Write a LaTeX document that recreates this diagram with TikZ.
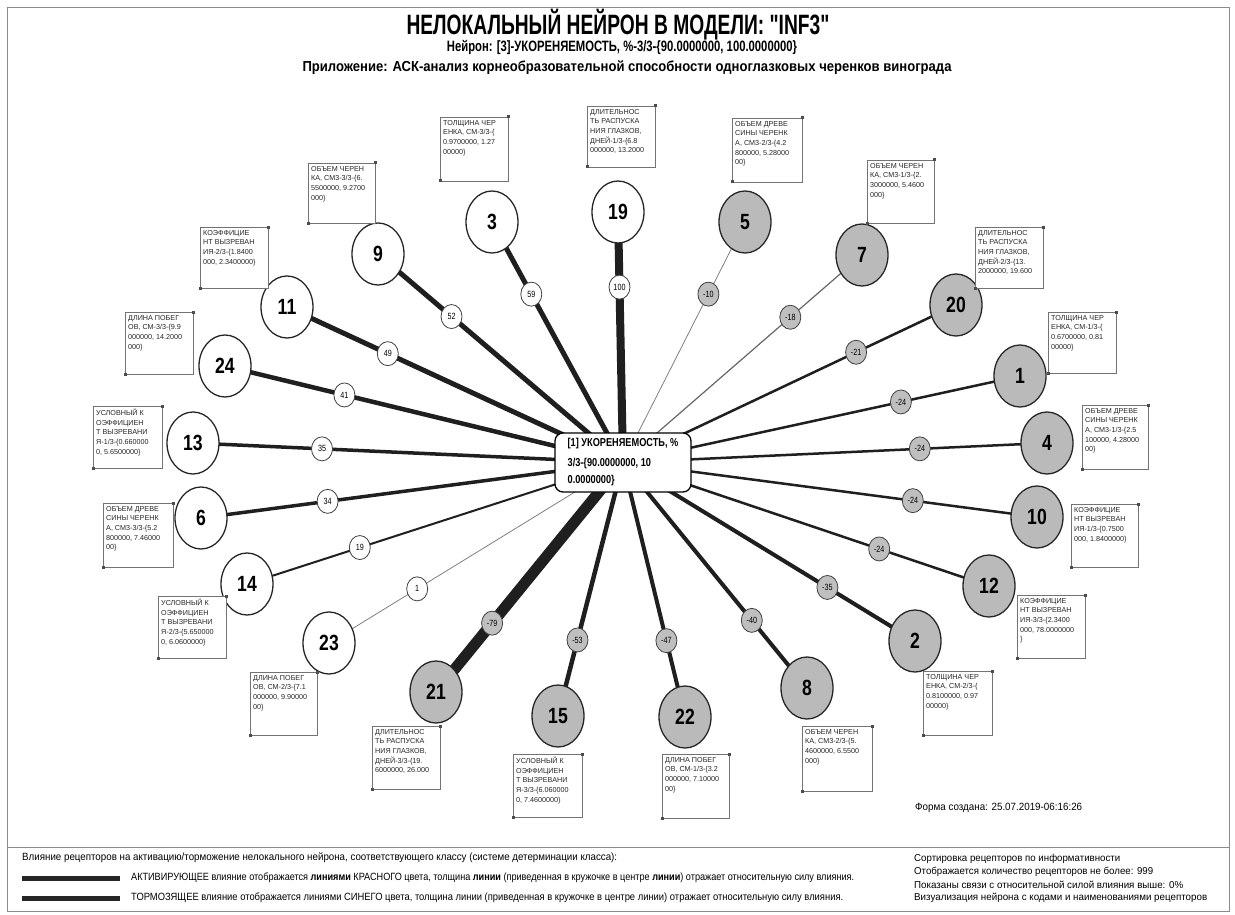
\documentclass[tikz,border=0pt]{standalone}
\usepackage{graphicx}
\usepackage{fontspec}
\setmainfont{Liberation Sans}[Ligatures=TeXOff]
\newfontfamily\nar[FakeStretch=0.8]{Liberation Sans}
\usetikzlibrary{shapes.geometric,calc}
\pgfdeclarelayer{back}
\pgfdeclarelayer{bg}
\pgfsetlayers{back,bg,main}
\tikzset{
 nd/.style={ellipse, draw=black!85, line width=1.3pt, minimum width=52pt, minimum height=62pt, inner sep=0pt, font=\nar\fontsize{22}{24}\selectfont\bfseries},
 wn/.style={nd, fill=white},
 gn/.style={nd, fill=black!27},
 lb/.style={ellipse, draw=black!75, line width=0.8pt, minimum width=21pt, minimum height=24pt, inner sep=0pt, font=\nar\fontsize{9}{10}\selectfont},
 lbw/.style={lb, fill=white},
 lbg/.style={lb, fill=black!25},
 ln/.style={draw=black!88, line cap=butt},
 ibox/.style={draw=black!55, line width=0.8pt, fill=white},
 itxt/.style={anchor=north west, inner sep=0pt, align=left, font=\fontsize{7.2}{9.6}\selectfont, text=black!85},
 mk/.style={rectangle, fill=black!70, minimum size=3pt, inner sep=0pt},
 cbox/.style={draw=black, line width=1.3pt, fill=white, rounded corners=8pt, minimum width=136pt, minimum height=59pt, align=left, inner sep=0pt, font=\nar\fontsize{11.5}{17}\selectfont\bfseries},
 txt/.style={inner sep=0pt},
}
\newcommand\infobox[6]{%
 \draw[ibox] (#2,#3) rectangle (#4,#5);
 \node[itxt] (#1) at ($(#2,#3)+(3,3)$) {#6};
 \node[mk] (#1a) at (#4,#3) {};
 \node[mk] (#1b) at (#2,#5) {};
}
\begin{document}
\begin{tikzpicture}[x=1pt,y=-1pt]
\useasboundingbox (0,0) rectangle (1235,915);
\begin{pgfonlayer}{back}
\fill[white] (0,0) rectangle (1235,915);
\end{pgfonlayer}
\draw[black!45, line width=1pt] (7,8) rectangle (1229,911);
\draw[black!45, line width=1pt] (7,847) -- (1229,847);

% titles
\node[txt] (t1) at (618,25) {\resizebox{423pt}{\height}{\fontsize{28}{30}\selectfont\bfseries НЕЛОКАЛЬНЫЙ НЕЙРОН В МОДЕЛИ: "INF3"}};
\node[txt] (t2) at (622,47) {\resizebox{350pt}{\height}{\fontsize{15}{17}\selectfont\bfseries Нейрон: [3]-УКОРЕНЯЕМОСТЬ, \%-3/3-\{90.0000000, 100.0000000\}}};
\node[txt] (t3) at (627,68) {\resizebox{649pt}{\height}{\fontsize{14.5}{17}\selectfont\bfseries Приложение: АСК-анализ корнеобразовательной способности одноглазковых черенков винограда}};

% centre
\node[cbox] (c) at (623,462.5) {[1] УКОРЕНЯЕМОСТЬ, \%\\ [3] 3/3-\{90.0000000, 10\\ 0.0000000\}};

% receptor nodes
\node[wn] (n19) at (618,212) {19};
\node[wn] (n3) at (492,222) {3};
\node[wn] (n9) at (378,254) {9};
\node[wn] (n11) at (287,307) {11};
\node[wn] (n24) at (225,366) {24};
\node[wn] (n13) at (193,443) {13};
\node[wn] (n6) at (201,518) {6};
\node[wn] (n14) at (247,584) {14};
\node[wn] (n23) at (329,643) {23};
\node[gn] (n5) at (745,222) {5};
\node[gn] (n7) at (862,255) {7};
\node[gn] (n20) at (956,305) {20};
\node[gn] (n1) at (1020,376) {1};
\node[gn] (n4) at (1047,443) {4};
\node[gn] (n10) at (1037,517) {10};
\node[gn] (n12) at (989,586) {12};
\node[gn] (n2) at (915,641) {2};
\node[gn] (n8) at (807,688) {8};
\node[gn] (n22) at (685,717) {22};
\node[gn] (n15) at (558,716) {15};
\node[gn] (n21) at (436,692) {21};

\begin{pgfonlayer}{bg}
\draw[ln, line width=8pt] (c.center) -- (n19.center);
\draw[ln, line width=5pt] (c.center) -- (n3.center);
\draw[ln, line width=5pt] (c.center) -- (n9.center);
\draw[ln, line width=5pt] (c.center) -- (n11.center);
\draw[ln, line width=4.5pt] (c.center) -- (n24.center);
\draw[ln, line width=3.5pt] (c.center) -- (n13.center);
\draw[ln, line width=3.5pt] (c.center) -- (n6.center);
\draw[ln, line width=2pt] (c.center) -- (n14.center);
\draw[ln, line width=0.8pt, draw=black!50] (c.center) -- (n23.center);
\draw[ln, line width=0.8pt, draw=black!50] (c.center) -- (n5.center);
\draw[ln, line width=1.2pt, draw=black!60] (c.center) -- (n7.center);
\draw[ln, line width=2.5pt] (c.center) -- (n20.center);
\draw[ln, line width=2.5pt] (c.center) -- (n1.center);
\draw[ln, line width=2.5pt] (c.center) -- (n4.center);
\draw[ln, line width=2.5pt] (c.center) -- (n10.center);
\draw[ln, line width=2.5pt] (c.center) -- (n12.center);
\draw[ln, line width=4pt] (c.center) -- (n2.center);
\draw[ln, line width=4pt] (c.center) -- (n8.center);
\draw[ln, line width=4pt] (c.center) -- (n22.center);
\draw[ln, line width=4.5pt] (c.center) -- (n15.center);
\draw[ln, line width=11pt] (c.center) -- (n21.center);
\end{pgfonlayer}

% weight labels
\node[lbw] (l19) at ($(c.center)!0.7!(n19.center)$) {100};
\node[lbw] (l3) at ($(c.center)!0.7!(n3.center)$) {59};
\node[lbw] (l9) at ($(c.center)!0.7!(n9.center)$) {52};
\node[lbw] (l11) at ($(c.center)!0.7!(n11.center)$) {49};
\node[lbw] (l24) at ($(c.center)!0.7!(n24.center)$) {41};
\node[lbw] (l13) at ($(c.center)!0.7!(n13.center)$) {35};
\node[lbw] (l6) at ($(c.center)!0.7!(n6.center)$) {34};
\node[lbw] (l14) at ($(c.center)!0.7!(n14.center)$) {19};
\node[lbw] (l23) at ($(c.center)!0.7!(n23.center)$) {1};
\node[lbg] (l5) at ($(c.center)!0.7!(n5.center)$) {-10};
\node[lbg] (l7) at ($(c.center)!0.7!(n7.center)$) {-18};
\node[lbg] (l20) at ($(c.center)!0.7!(n20.center)$) {-21};
\node[lbg] (l1) at ($(c.center)!0.7!(n1.center)$) {-24};
\node[lbg] (l4) at ($(c.center)!0.7!(n4.center)$) {-24};
\node[lbg] (l10) at ($(c.center)!0.7!(n10.center)$) {-24};
\node[lbg] (l12) at ($(c.center)!0.7!(n12.center)$) {-24};
\node[lbg] (l2) at ($(c.center)!0.7!(n2.center)$) {-35};
\node[lbg] (l8) at ($(c.center)!0.7!(n8.center)$) {-40};
\node[lbg] (l22) at ($(c.center)!0.7!(n22.center)$) {-47};
\node[lbg] (l15) at ($(c.center)!0.7!(n15.center)$) {-53};
\node[lbg] (l21) at ($(c.center)!0.7!(n21.center)$) {-79};

% info boxes
\infobox{b3}{440}{117}{508}{181}{ТОЛЩИНА ЧЕР\\ЕНКА, СМ-3/3-\{\\0.9700000, 1.27\\00000\}}
\infobox{b19}{587}{106}{655}{167}{ДЛИТЕЛЬНОС\\ТЬ РАСПУСКА\\НИЯ ГЛАЗКОВ,\\ДНЕЙ-1/3-\{6.8\\000000, 13.2000}
\infobox{b5}{732}{118}{802}{182}{ОБЪЕМ ДРЕВЕ\\СИНЫ ЧЕРЕНК\\А, СМ3-2/3-\{4.2\\800000, 5.28000\\00\}}
\infobox{b9}{308}{163}{375}{223}{ОБЪЕМ ЧЕРЕН\\КА, СМ3-3/3-\{6.\\5500000, 9.2700\\000\}}
\infobox{b7}{867}{160}{934}{223}{ОБЪЕМ ЧЕРЕН\\КА, СМ3-1/3-\{2.\\3000000, 5.4600\\000\}}
\infobox{b11}{200}{227}{268}{288}{КОЭФФИЦИЕ\\НТ ВЫЗРЕВАН\\ИЯ-2/3-\{1.8400\\000, 2.3400000\}}
\infobox{b20}{975}{227}{1043}{288}{ДЛИТЕЛЬНОС\\ТЬ РАСПУСКА\\НИЯ ГЛАЗКОВ,\\ДНЕЙ-2/3-\{13.\\2000000, 19.600}
\infobox{b24}{125}{312}{193}{374}{ДЛИНА ПОБЕГ\\ОВ, СМ-3/3-\{9.9\\000000, 14.2000\\000\}}
\infobox{b1}{1048}{312}{1116}{373}{ТОЛЩИНА ЧЕР\\ЕНКА, СМ-1/3-\{\\0.6700000, 0.81\\00000\}}
\infobox{b13}{93}{406}{162}{468}{УСЛОВНЫЙ К\\ОЭФФИЦИЕН\\Т ВЫЗРЕВАНИ\\Я-1/3-\{0.660000\\0, 5.6500000\}}
\infobox{b4}{1082}{405}{1148}{469}{ОБЪЕМ ДРЕВЕ\\СИНЫ ЧЕРЕНК\\А, СМ3-1/3-\{2.5\\100000, 4.28000\\00\}}
\infobox{b6}{103}{503}{173}{567}{ОБЪЕМ ДРЕВЕ\\СИНЫ ЧЕРЕНК\\А, СМ3-3/3-\{5.2\\800000, 7.46000\\00\}}
\infobox{b10}{1071}{504}{1138}{567}{КОЭФФИЦИЕ\\НТ ВЫЗРЕВАН\\ИЯ-1/3-\{0.7500\\000, 1.8400000\}}
\infobox{b14}{158}{596}{226}{658}{УСЛОВНЫЙ К\\ОЭФФИЦИЕН\\Т ВЫЗРЕВАНИ\\Я-2/3-\{5.650000\\0, 6.0600000\}}
\infobox{b12}{1017}{595}{1085}{658}{КОЭФФИЦИЕ\\НТ ВЫЗРЕВАН\\ИЯ-3/3-\{2.3400\\000, 78.0000000\\\}}
\infobox{b23}{250}{672}{317}{735}{ДЛИНА ПОБЕГ\\ОВ, СМ-2/3-\{7.1\\000000, 9.90000\\00\}}
\infobox{b2}{923}{671}{992}{735}{ТОЛЩИНА ЧЕР\\ЕНКА, СМ-2/3-\{\\0.8100000, 0.97\\00000\}}
\infobox{b21}{372}{726}{440}{789}{ДЛИТЕЛЬНОС\\ТЬ РАСПУСКА\\НИЯ ГЛАЗКОВ,\\ДНЕЙ-3/3-\{19.\\6000000, 26.000}
\infobox{b8}{802}{726}{872}{791}{ОБЪЕМ ЧЕРЕН\\КА, СМ3-2/3-\{5.\\4600000, 6.5500\\000\}}
\infobox{b15}{513}{754}{582}{817}{УСЛОВНЫЙ К\\ОЭФФИЦИЕН\\Т ВЫЗРЕВАНИ\\Я-3/3-\{6.060000\\0, 7.4600000\}}
\infobox{b22}{662}{754}{729}{818}{ДЛИНА ПОБЕГ\\ОВ, СМ-1/3-\{3.2\\000000, 7.10000\\00\}}

% footer date
\node[txt, anchor=west] (fd) at (915,808) {\resizebox{167pt}{\height}{\fontsize{10.5}{12}\selectfont Форма создана: 25.07.2019-06:16:26}};

% legend
\node[txt, anchor=west] (g0) at (22,858) {\resizebox{595pt}{\height}{\fontsize{10.5}{12}\selectfont Влияние рецепторов на активацию/торможение нелокального нейрона, соответствующего классу (системе детерминации класса):}};
\coordinate (s1a) at (22,878); \coordinate (s1b) at (120,878);
\coordinate (s2a) at (22,898); \coordinate (s2b) at (120,898);
\draw[black!85, line width=5pt] (s1a) -- (s1b);
\draw[black!85, line width=5pt] (s2a) -- (s2b);
\node[txt, anchor=west] (g1) at (131,878) {\resizebox{723pt}{\height}{\fontsize{10.5}{12}\selectfont АКТИВИРУЮЩЕЕ влияние отображается \textbf{линиями} КРАСНОГО цвета, толщина \textbf{линии} (приведенная в кружочке в центре \textbf{линии}) отражает относительную силу влияния.}};
\node[txt, anchor=west] (g2) at (131,898) {\resizebox{712pt}{\height}{\fontsize{10.5}{12}\selectfont ТОРМОЗЯЩЕЕ влияние отображается линиями СИНЕГО цвета, толщина линии (приведенная в кружочке в центре линии) отражает относительную силу влияния.}};
\node[txt, anchor=west] (r1) at (914,859) {\resizebox{206pt}{\height}{\fontsize{10}{12}\selectfont Сортировка рецепторов по информативности}};
\node[txt, anchor=west] (r2) at (914,872) {\resizebox{239pt}{\height}{\fontsize{10}{12}\selectfont Отображается количество рецепторов не более: 999}};
\node[txt, anchor=west] (r3) at (914,885) {\resizebox{269pt}{\height}{\fontsize{10}{12}\selectfont Показаны связи с относительной силой влияния выше: 0\%}};
\node[txt, anchor=west] (r4) at (914,898) {\resizebox{293pt}{\height}{\fontsize{10}{12}\selectfont Визуализация нейрона с кодами и наименованиями рецепторов}};
\end{tikzpicture}
\end{document}
